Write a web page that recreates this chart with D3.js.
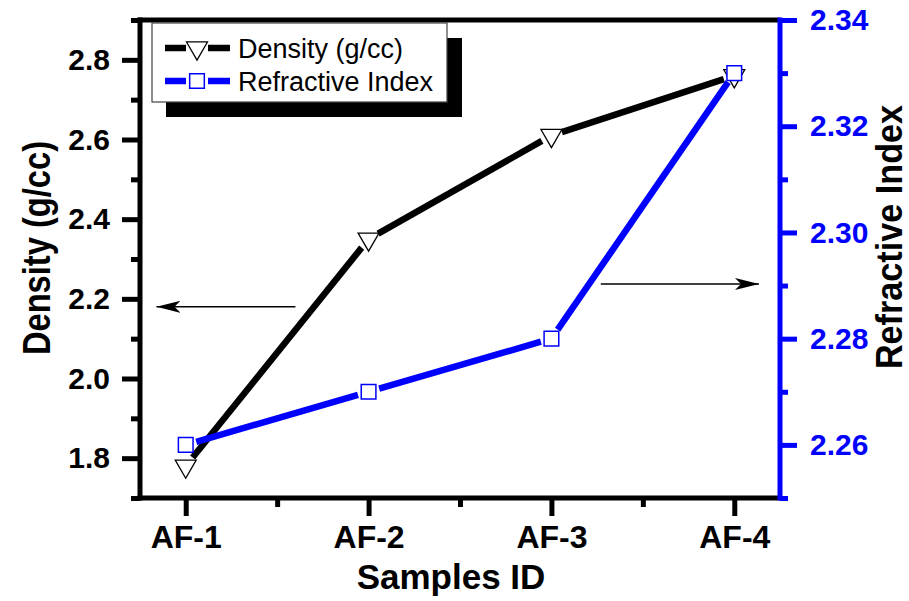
<!DOCTYPE html>
<html>
<head>
<meta charset="utf-8">
<script src="https://cdn.jsdelivr.net/npm/d3@7"></script>
<style>
  body { margin: 0; background: #fff; }
  svg { display: block; font-family: "Liberation Sans", Arial, sans-serif; }
</style>
</head>
<body>
<div id="chart"></div>
<script>
// data
var samples = ["AF-1", "AF-2", "AF-3", "AF-4"];
var density = [1.78, 2.35, 2.61, 2.76];
var refractive = [2.26, 2.27, 2.28, 2.33];

var densityTicks = [1.8, 2.0, 2.2, 2.4, 2.6, 2.8];
var densityMinor = [1.7, 1.9, 2.1, 2.3, 2.5, 2.7, 2.9];
var refrTicks = [2.26, 2.28, 2.30, 2.32, 2.34];
var refrMinor = [2.25, 2.27, 2.29, 2.31, 2.33];
var xMinor = [1.5, 2.5, 3.5];

// annotation arrows: [y value, x start, x end] on the matching axis
var arrowLeft = [2.18, 1.6, 0.84];
var arrowRight = [2.2903, 3.27, 4.135];

var W = 909, H = 601;
var margin = {top: 20, right: 129, bottom: 103, left: 140};
var width = W - margin.left - margin.right;
var height = H - margin.top - margin.bottom;
var BLUE = "#0000ff";

var svg = d3.select("#chart").append("svg")
    .attr("width", W)
    .attr("height", H);

var defs = svg.append("defs");
defs.append("marker")
    .attr("id", "head")
    .attr("viewBox", "0 0 24 12")
    .attr("refX", 24).attr("refY", 6)
    .attr("markerWidth", 24).attr("markerHeight", 12)
    .attr("markerUnits", "userSpaceOnUse")
    .attr("orient", "auto")
    .append("path")
    .attr("d", "M0,0 L24,6 L0,12 L6,6 Z")
    .attr("fill", "#000");

var g = svg.append("g")
    .attr("transform", "translate(" + margin.left + "," + margin.top + ")");

var x = d3.scaleLinear().domain([0.75, 4.25]).range([0, width]);
var yL = d3.scaleLinear().domain([1.7, 2.9]).range([height, 0]);
var yR = d3.scaleLinear().domain([2.25, 2.34]).range([height, 0]);

// axes
var xAxis = d3.axisBottom(x).tickValues([1, 2, 3, 4])
    .tickFormat(function(d) { return samples[d - 1]; })
    .tickSize(18).tickPadding(9);
var xAxisMinor = d3.axisBottom(x).tickValues(xMinor).tickSize(9).tickFormat("");

var yAxisL = d3.axisLeft(yL).tickValues(densityTicks)
    .tickFormat(d3.format(".1f")).tickSize(18).tickPadding(12);
var yAxisLMinor = d3.axisLeft(yL).tickValues(densityMinor).tickSize(9).tickFormat("");

var yAxisR = d3.axisRight(yR).tickValues(refrTicks)
    .tickFormat(d3.format(".2f")).tickSize(17).tickPadding(13);
var yAxisRMinor = d3.axisRight(yR).tickValues(refrMinor).tickSize(8).tickFormat("");

function styleAxis(sel, col, fs) {
    sel.select(".domain").remove();
    sel.selectAll("line").attr("stroke", col).attr("stroke-width", 5);
    sel.selectAll("text")
        .attr("fill", col)
        .style("font-size", fs + "px")
        .style("font-weight", "bold");
}

g.append("g").attr("class", "x axis")
    .attr("transform", "translate(0," + height + ")")
    .call(xAxis).call(styleAxis, "#000", 32);
g.append("g").attr("class", "x axis minor")
    .attr("transform", "translate(0," + height + ")")
    .call(xAxisMinor).call(styleAxis, "#000", 32);

g.append("g").attr("class", "y axis")
    .call(yAxisL).call(styleAxis, "#000", 30);
g.append("g").attr("class", "y axis minor")
    .call(yAxisLMinor).call(styleAxis, "#000", 30);

g.append("g").attr("class", "y2 axis")
    .attr("transform", "translate(" + width + ",0)")
    .call(yAxisR).call(styleAxis, BLUE, 30);
g.append("g").attr("class", "y2 axis minor")
    .attr("transform", "translate(" + width + ",0)")
    .call(yAxisRMinor).call(styleAxis, BLUE, 30);

// frame
g.append("line").attr("x1", -2.5).attr("x2", width).attr("y1", 0).attr("y2", 0)
    .attr("stroke", "#000").attr("stroke-width", 5);
g.append("line").attr("x1", -2.5).attr("x2", width).attr("y1", height).attr("y2", height)
    .attr("stroke", "#000").attr("stroke-width", 5);
g.append("line").attr("x1", 0).attr("x2", 0).attr("y1", -2.5).attr("y2", height + 2.5)
    .attr("stroke", "#000").attr("stroke-width", 5);
g.append("line").attr("x1", width).attr("x2", width).attr("y1", -2.5).attr("y2", height + 2.5)
    .attr("stroke", BLUE).attr("stroke-width", 5);

// axis titles (slightly condensed along their length, as in the original)
g.append("text")
    .attr("transform", "translate(" + (-90) + "," + (height / 2 - 11) + ") rotate(-90) scale(0.86,1)")
    .attr("text-anchor", "middle")
    .style("font-size", "38px").style("font-weight", "bold")
    .text("Density (g/cc)");

g.append("text")
    .attr("transform", "translate(" + (width + 122) + "," + (height / 2 - 22) + ") rotate(-90) scale(0.95,1)")
    .attr("text-anchor", "middle")
    .style("font-size", "36px").style("font-weight", "bold")
    .text("Refractive Index");

g.append("text")
    .attr("x", (x(2) + x(3)) / 2 - 9)
    .attr("y", height + 91)
    .attr("text-anchor", "middle")
    .style("font-size", "35px").style("font-weight", "bold")
    .text("Samples ID");

// series lines, broken around the symbols
function gapSegments(xs, ys, gap) {
    var segs = [];
    for (var i = 0; i < xs.length - 1; i++) {
        var dx = xs[i + 1] - xs[i], dy = ys[i + 1] - ys[i];
        var len = Math.sqrt(dx * dx + dy * dy);
        var ux = dx / len, uy = dy / len;
        segs.push([xs[i] + ux * gap, ys[i] + uy * gap, xs[i + 1] - ux * gap, ys[i + 1] - uy * gap]);
    }
    return segs;
}

var px = samples.map(function(d, i) { return x(i + 1); });
var pyD = density.map(function(d) { return yL(d); });
var pyR = refractive.map(function(d) { return yR(d); });

var tri = d3.symbol().type(d3.symbolTriangle).size(190);
var sq = d3.symbol().type(d3.symbolSquare).size(215);

g.append("g").selectAll("line")
    .data(gapSegments(px, pyD, 11))
    .enter().append("line")
    .attr("x1", function(d) { return d[0]; }).attr("y1", function(d) { return d[1]; })
    .attr("x2", function(d) { return d[2]; }).attr("y2", function(d) { return d[3]; })
    .attr("stroke", "#000").attr("stroke-width", 6.5);

g.append("g").selectAll("path")
    .data(density)
    .enter().append("path")
    .attr("d", tri)
    .attr("transform", function(d, i) { return "translate(" + px[i] + "," + yL(d) + ") rotate(180)"; })
    .attr("fill", "#fff").attr("stroke", "#000").attr("stroke-width", 1.3);

g.append("g").selectAll("line")
    .data(gapSegments(px, pyR, 11))
    .enter().append("line")
    .attr("x1", function(d) { return d[0]; }).attr("y1", function(d) { return d[1]; })
    .attr("x2", function(d) { return d[2]; }).attr("y2", function(d) { return d[3]; })
    .attr("stroke", BLUE).attr("stroke-width", 6.5);

g.append("g").selectAll("path")
    .data(refractive)
    .enter().append("path")
    .attr("d", sq)
    .attr("transform", function(d, i) { return "translate(" + px[i] + "," + yR(d) + ")"; })
    .attr("fill", "#fff").attr("stroke", BLUE).attr("stroke-width", 1.5);

// arrows
g.append("line")
    .attr("x1", x(arrowLeft[1])).attr("x2", x(arrowLeft[2]))
    .attr("y1", yL(arrowLeft[0])).attr("y2", yL(arrowLeft[0]))
    .attr("stroke", "#000").attr("stroke-width", 1.6)
    .attr("marker-end", "url(#head)");
g.append("line")
    .attr("x1", x(arrowRight[1])).attr("x2", x(arrowRight[2]))
    .attr("y1", yR(arrowRight[0])).attr("y2", yR(arrowRight[0]))
    .attr("stroke", "#000").attr("stroke-width", 1.6)
    .attr("marker-end", "url(#head)");

// legend with drop shadow
var legend = svg.append("g").attr("transform", "translate(152,23)");
legend.append("rect")
    .attr("x", 14).attr("y", 15).attr("width", 296).attr("height", 79)
    .attr("fill", "#000");
legend.append("rect")
    .attr("x", 0).attr("y", 0).attr("width", 295).attr("height", 79)
    .attr("fill", "#fff").attr("stroke", "#444").attr("stroke-width", 1.2);

var legendItems = [
    {label: "Density (g/cc)", color: "#000", sym: tri, rot: 180, sw: 1.3},
    {label: "Refractive Index", color: BLUE, sym: sq, rot: 0, sw: 1.5}
];
var row = legend.selectAll(".row")
    .data(legendItems)
    .enter().append("g")
    .attr("class", "row")
    .attr("transform", function(d, i) { return "translate(0," + (25 + i * 33) + ")"; });
row.append("line").attr("x1", 13).attr("x2", 34).attr("y1", 0).attr("y2", 0)
    .attr("stroke", function(d) { return d.color; }).attr("stroke-width", 6.5);
row.append("line").attr("x1", 56).attr("x2", 78).attr("y1", 0).attr("y2", 0)
    .attr("stroke", function(d) { return d.color; }).attr("stroke-width", 6.5);
row.append("path")
    .attr("d", function(d) { return d.sym(); })
    .attr("transform", function(d) { return "translate(45,0) rotate(" + d.rot + ")"; })
    .attr("fill", "#fff")
    .attr("stroke", function(d) { return d.color; })
    .attr("stroke-width", function(d) { return d.sw; });
row.append("text")
    .attr("x", 86).attr("y", 10)
    .style("font-size", "27px")
    .text(function(d) { return d.label; });
</script>
</body>
</html>
